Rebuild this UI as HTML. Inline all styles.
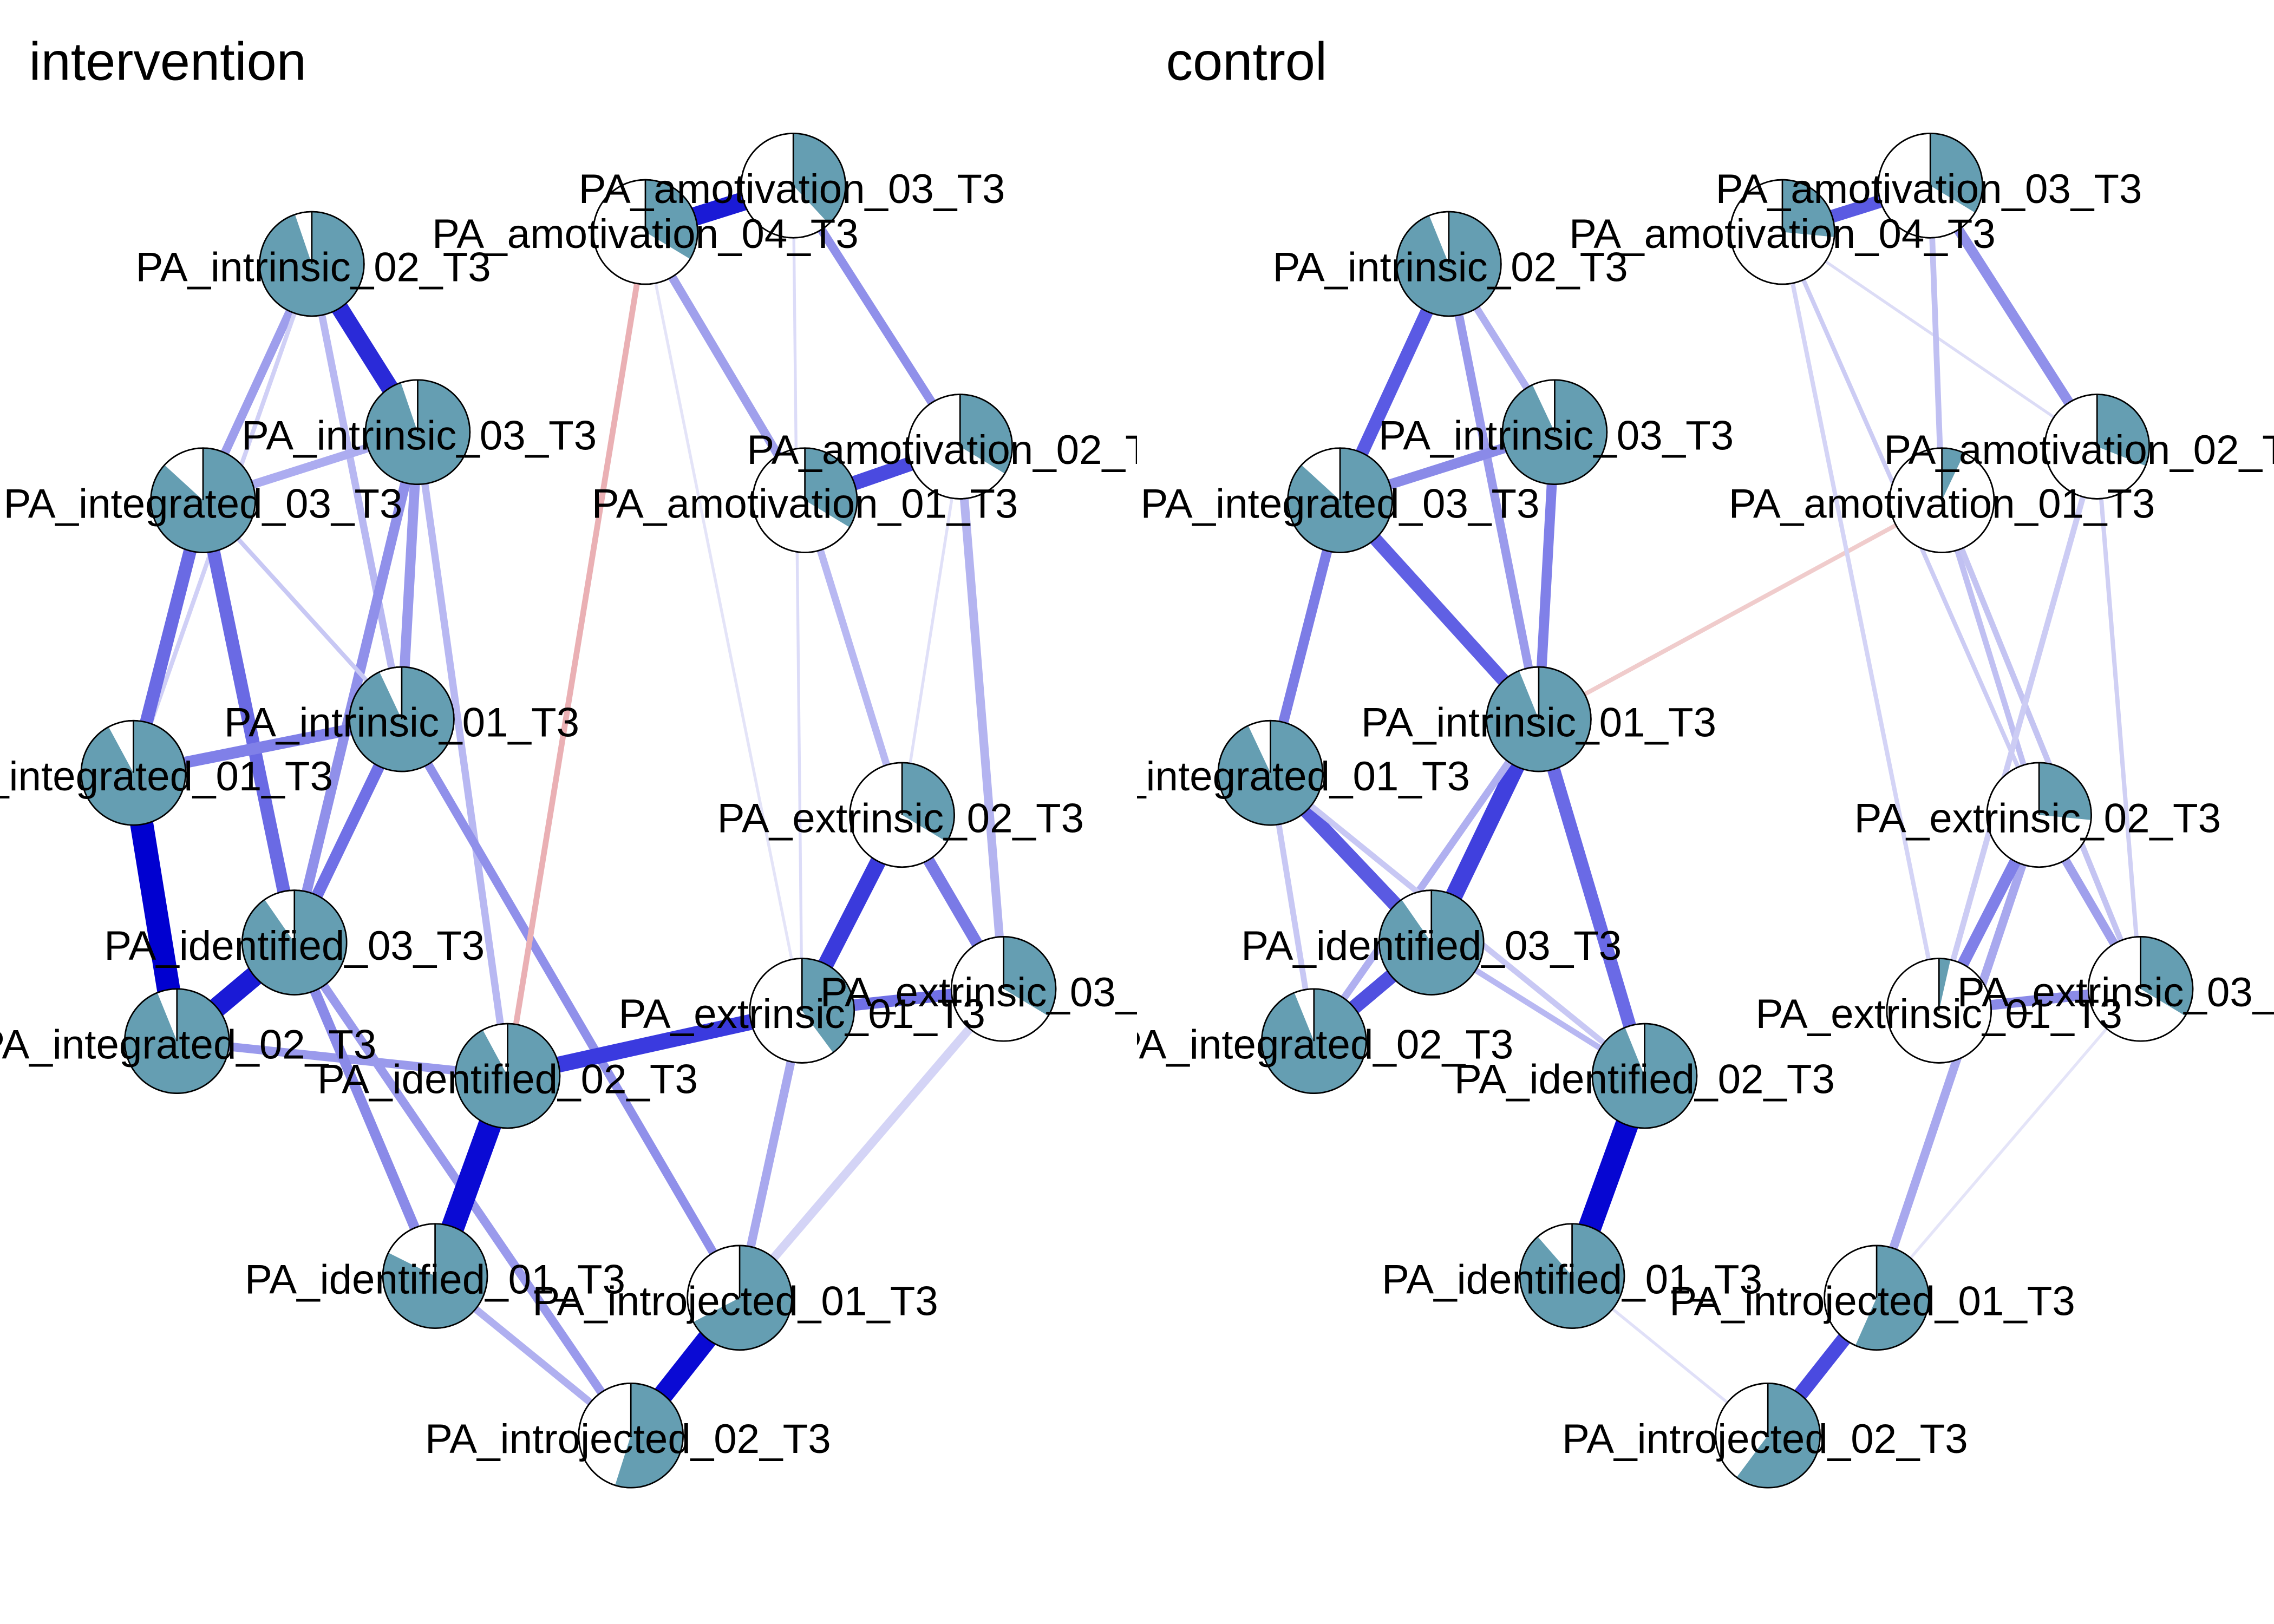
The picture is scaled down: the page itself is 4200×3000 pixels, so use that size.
<!DOCTYPE html>
<html><head><meta charset="utf-8"><style>html,body{margin:0;padding:0;background:#fff}svg{display:block}</style></head>
<body>
<svg width="4200" height="3000" viewBox="0 0 1568 1120" xmlns="http://www.w3.org/2000/svg" font-family="Liberation Sans, Arial, sans-serif">
<defs>
<clipPath id="c1"><rect x="0" y="0" width="784" height="1120"/></clipPath>
<clipPath id="c2"><rect x="0" y="0" width="784" height="1120"/></clipPath>
</defs>
<text x="20" y="55" font-size="37">intervention</text>
<text x="804" y="55" font-size="37">control</text>

<!-- INTERVENTION -->
<g clip-path="url(#c1)">
<g stroke-linecap="butt" fill="none">
<line x1="215" y1="182" x2="288" y2="298" stroke="#2a2ad8" stroke-width="12"/>
<line x1="215" y1="182" x2="140" y2="345" stroke="#9e9eec" stroke-width="6"/>
<line x1="215" y1="182" x2="92" y2="533" stroke="#d0d0f6" stroke-width="3"/>
<line x1="215" y1="182" x2="277" y2="496" stroke="#b8b8f2" stroke-width="5"/>
<line x1="288" y1="298" x2="140" y2="345" stroke="#acacf0" stroke-width="6"/>
<line x1="288" y1="298" x2="277" y2="496" stroke="#9a9aec" stroke-width="7"/>
<line x1="288" y1="298" x2="203" y2="650" stroke="#9090ea" stroke-width="7"/>
<line x1="288" y1="298" x2="350" y2="742" stroke="#b8b8f2" stroke-width="5"/>
<line x1="140" y1="345" x2="277" y2="496" stroke="#c8c8f4" stroke-width="3"/>
<line x1="140" y1="345" x2="92" y2="533" stroke="#6a6ae4" stroke-width="9"/>
<line x1="140" y1="345" x2="203" y2="650" stroke="#6a6ae4" stroke-width="9"/>
<line x1="92" y1="533" x2="277" y2="496" stroke="#8080e8" stroke-width="8"/>
<line x1="92" y1="533" x2="122" y2="718" stroke="#0000d0" stroke-width="16"/>
<line x1="277" y1="496" x2="203" y2="650" stroke="#7070e6" stroke-width="8"/>
<line x1="277" y1="496" x2="510" y2="895" stroke="#9090ea" stroke-width="6"/>
<line x1="122" y1="718" x2="203" y2="650" stroke="#1a1ad6" stroke-width="14"/>
<line x1="122" y1="718" x2="350" y2="742" stroke="#9a9aec" stroke-width="6"/>
<line x1="203" y1="650" x2="300" y2="880" stroke="#8a8ae8" stroke-width="7"/>
<line x1="203" y1="650" x2="435" y2="990" stroke="#9a9aec" stroke-width="6"/>
<line x1="300" y1="880" x2="435" y2="990" stroke="#b0b0f0" stroke-width="5"/>
<line x1="350" y1="742" x2="300" y2="880" stroke="#0a0ad4" stroke-width="16"/>
<line x1="350" y1="742" x2="553" y2="697" stroke="#3a3adf" stroke-width="11"/>
<line x1="350" y1="742" x2="445" y2="160" stroke="#eab0b4" stroke-width="4"/>
<line x1="510" y1="895" x2="435" y2="990" stroke="#0a0ad4" stroke-width="14"/>
<line x1="510" y1="895" x2="553" y2="697" stroke="#a8a8ee" stroke-width="6"/>
<line x1="510" y1="895" x2="692" y2="682" stroke="#d4d4f6" stroke-width="6"/>
<line x1="445" y1="160" x2="547" y2="128" stroke="#1a1ad6" stroke-width="13"/>
<line x1="445" y1="160" x2="555" y2="345" stroke="#a0a0ec" stroke-width="6"/>
<line x1="445" y1="160" x2="553" y2="697" stroke="#e4e4f8" stroke-width="2"/>
<line x1="547" y1="128" x2="662" y2="308" stroke="#9090ea" stroke-width="6"/>
<line x1="547" y1="128" x2="553" y2="697" stroke="#dcdcf8" stroke-width="2"/>
<line x1="662" y1="308" x2="555" y2="345" stroke="#4a4ae0" stroke-width="10"/>
<line x1="662" y1="308" x2="622" y2="562" stroke="#e0e0f8" stroke-width="2"/>
<line x1="662" y1="308" x2="692" y2="682" stroke="#b4b4f0" stroke-width="6"/>
<line x1="555" y1="345" x2="622" y2="562" stroke="#b8b8f2" stroke-width="5"/>
<line x1="622" y1="562" x2="553" y2="697" stroke="#3a3adc" stroke-width="11"/>
<line x1="622" y1="562" x2="692" y2="682" stroke="#7a7ae6" stroke-width="8"/>
<line x1="553" y1="697" x2="692" y2="682" stroke="#7070e6" stroke-width="8"/>
</g>
<g stroke="#000" stroke-width="1">
<g transform="translate(215,182)"><circle r="36" fill="#fff"/><circle r="18" fill="none" stroke="#659eb2" stroke-width="36" stroke-dasharray="107 120" transform="rotate(-90)"/><circle r="36" fill="none"/><line y2="-36"/></g>
<g transform="translate(288,298)"><circle r="36" fill="#fff"/><circle r="18" fill="none" stroke="#659eb2" stroke-width="36" stroke-dasharray="107 120" transform="rotate(-90)"/><circle r="36" fill="none"/><line y2="-36"/></g>
<g transform="translate(140,345)"><circle r="36" fill="#fff"/><circle r="18" fill="none" stroke="#659eb2" stroke-width="36" stroke-dasharray="98 120" transform="rotate(-90)"/><circle r="36" fill="none"/><line y2="-36"/></g>
<g transform="translate(277,496)"><circle r="36" fill="#fff"/><circle r="18" fill="none" stroke="#659eb2" stroke-width="36" stroke-dasharray="105 120" transform="rotate(-90)"/><circle r="36" fill="none"/><line y2="-36"/></g>
<g transform="translate(92,533)"><circle r="36" fill="#fff"/><circle r="18" fill="none" stroke="#659eb2" stroke-width="36" stroke-dasharray="104 120" transform="rotate(-90)"/><circle r="36" fill="none"/><line y2="-36"/></g>
<g transform="translate(203,650)"><circle r="36" fill="#fff"/><circle r="18" fill="none" stroke="#659eb2" stroke-width="36" stroke-dasharray="102 120" transform="rotate(-90)"/><circle r="36" fill="none"/><line y2="-36"/></g>
<g transform="translate(122,718)"><circle r="36" fill="#fff"/><circle r="18" fill="none" stroke="#659eb2" stroke-width="36" stroke-dasharray="106 120" transform="rotate(-90)"/><circle r="36" fill="none"/><line y2="-36"/></g>
<g transform="translate(350,742)"><circle r="36" fill="#fff"/><circle r="18" fill="none" stroke="#659eb2" stroke-width="36" stroke-dasharray="104 120" transform="rotate(-90)"/><circle r="36" fill="none"/><line y2="-36"/></g>
<g transform="translate(300,880)"><circle r="36" fill="#fff"/><circle r="18" fill="none" stroke="#659eb2" stroke-width="36" stroke-dasharray="93 120" transform="rotate(-90)"/><circle r="36" fill="none"/><line y2="-36"/></g>
<g transform="translate(510,895)"><circle r="36" fill="#fff"/><circle r="18" fill="none" stroke="#659eb2" stroke-width="36" stroke-dasharray="76 120" transform="rotate(-90)"/><circle r="36" fill="none"/><line y2="-36"/></g>
<g transform="translate(435,990)"><circle r="36" fill="#fff"/><circle r="18" fill="none" stroke="#659eb2" stroke-width="36" stroke-dasharray="62 120" transform="rotate(-90)"/><circle r="36" fill="none"/><line y2="-36"/></g>
<g transform="translate(547,128)"><circle r="36" fill="#fff"/><circle r="18" fill="none" stroke="#659eb2" stroke-width="36" stroke-dasharray="43 120" transform="rotate(-90)"/><circle r="36" fill="none"/><line y2="-36"/></g>
<g transform="translate(445,160)"><circle r="36" fill="#fff"/><circle r="18" fill="none" stroke="#659eb2" stroke-width="36" stroke-dasharray="38 120" transform="rotate(-90)"/><circle r="36" fill="none"/><line y2="-36"/></g>
<g transform="translate(662,308)"><circle r="36" fill="#fff"/><circle r="18" fill="none" stroke="#659eb2" stroke-width="36" stroke-dasharray="38 120" transform="rotate(-90)"/><circle r="36" fill="none"/><line y2="-36"/></g>
<g transform="translate(555,345)"><circle r="36" fill="#fff"/><circle r="18" fill="none" stroke="#659eb2" stroke-width="36" stroke-dasharray="38 120" transform="rotate(-90)"/><circle r="36" fill="none"/><line y2="-36"/></g>
<g transform="translate(622,562)"><circle r="36" fill="#fff"/><circle r="18" fill="none" stroke="#659eb2" stroke-width="36" stroke-dasharray="38 120" transform="rotate(-90)"/><circle r="36" fill="none"/><line y2="-36"/></g>
<g transform="translate(692,682)"><circle r="36" fill="#fff"/><circle r="18" fill="none" stroke="#659eb2" stroke-width="36" stroke-dasharray="38 120" transform="rotate(-90)"/><circle r="36" fill="none"/><line y2="-36"/></g>
<g transform="translate(553,697)"><circle r="36" fill="#fff"/><circle r="18" fill="none" stroke="#659eb2" stroke-width="36" stroke-dasharray="45 120" transform="rotate(-90)"/><circle r="36" fill="none"/><line y2="-36"/></g>
</g>
<g font-size="28.5" text-anchor="middle" fill="#000">
<text x="216" y="194">PA_intrinsic_02_T3</text>
<text x="289" y="310">PA_intrinsic_03_T3</text>
<text x="140" y="357">PA_integrated_03_T3</text>
<text x="277" y="508">PA_intrinsic_01_T3</text>
<text x="92" y="545">PA_integrated_01_T3</text>
<text x="203" y="662">PA_identified_03_T3</text>
<text x="122" y="730">PA_integrated_02_T3</text>
<text x="350" y="754">PA_identified_02_T3</text>
<text x="300" y="892">PA_identified_01_T3</text>
<text x="507" y="907">PA_introjected_01_T3</text>
<text x="433" y="1002">PA_introjected_02_T3</text>
<text x="546" y="140">PA_amotivation_03_T3</text>
<text x="445" y="171">PA_amotivation_04_T3</text>
<text x="662" y="320">PA_amotivation_02_T3</text>
<text x="555" y="357">PA_amotivation_01_T3</text>
<text x="621" y="574">PA_extrinsic_02_T3</text>
<text x="692" y="694">PA_extrinsic_03_T3</text>
<text x="553" y="709">PA_extrinsic_01_T3</text>
</g>
</g>

<!-- CONTROL -->
<g transform="translate(784,0)">
<g clip-path="url(#c2)">
<g stroke-linecap="butt" fill="none">
<line x1="215" y1="182" x2="140" y2="345" stroke="#5a5ae4" stroke-width="9"/>
<line x1="215" y1="182" x2="277" y2="496" stroke="#9a9aec" stroke-width="6"/>
<line x1="215" y1="182" x2="288" y2="298" stroke="#b0b0f0" stroke-width="5"/>
<line x1="288" y1="298" x2="140" y2="345" stroke="#8a8ae8" stroke-width="7"/>
<line x1="288" y1="298" x2="277" y2="496" stroke="#8080e8" stroke-width="7"/>
<line x1="140" y1="345" x2="277" y2="496" stroke="#6060e4" stroke-width="9"/>
<line x1="140" y1="345" x2="92" y2="533" stroke="#7c7ce6" stroke-width="7"/>
<line x1="277" y1="496" x2="203" y2="650" stroke="#4040de" stroke-width="12"/>
<line x1="277" y1="496" x2="350" y2="742" stroke="#6a6ae6" stroke-width="9"/>
<line x1="277" y1="496" x2="122" y2="718" stroke="#b0b0f0" stroke-width="5"/>
<line x1="277" y1="496" x2="555" y2="345" stroke="#f0cccc" stroke-width="3"/>
<line x1="92" y1="533" x2="203" y2="650" stroke="#5a5ae2" stroke-width="10"/>
<line x1="92" y1="533" x2="122" y2="718" stroke="#c8c8f4" stroke-width="4"/>
<line x1="92" y1="533" x2="350" y2="742" stroke="#c8c8f4" stroke-width="4"/>
<line x1="203" y1="650" x2="122" y2="718" stroke="#5050e0" stroke-width="10"/>
<line x1="203" y1="650" x2="350" y2="742" stroke="#b8b8f2" stroke-width="4"/>
<line x1="350" y1="742" x2="300" y2="880" stroke="#0606d2" stroke-width="16"/>
<line x1="300" y1="880" x2="435" y2="990" stroke="#e0e0f8" stroke-width="2"/>
<line x1="510" y1="895" x2="435" y2="990" stroke="#4a4ae0" stroke-width="10"/>
<line x1="510" y1="895" x2="622" y2="562" stroke="#a8a8ee" stroke-width="6"/>
<line x1="510" y1="895" x2="692" y2="682" stroke="#e4e4f8" stroke-width="2"/>
<line x1="445" y1="160" x2="547" y2="128" stroke="#5a5ae2" stroke-width="9"/>
<line x1="445" y1="160" x2="662" y2="308" stroke="#dcdcf6" stroke-width="2"/>
<line x1="445" y1="160" x2="622" y2="562" stroke="#ccccf4" stroke-width="3"/>
<line x1="445" y1="160" x2="553" y2="697" stroke="#d4d4f6" stroke-width="3"/>
<line x1="547" y1="128" x2="662" y2="308" stroke="#9090ea" stroke-width="7"/>
<line x1="547" y1="128" x2="555" y2="345" stroke="#c0c0f2" stroke-width="4"/>
<line x1="555" y1="345" x2="622" y2="562" stroke="#c0c0f2" stroke-width="4"/>
<line x1="555" y1="345" x2="692" y2="682" stroke="#c4c4f2" stroke-width="4"/>
<line x1="662" y1="308" x2="553" y2="697" stroke="#ccccf4" stroke-width="4"/>
<line x1="662" y1="308" x2="692" y2="682" stroke="#d0d0f4" stroke-width="3"/>
<line x1="622" y1="562" x2="553" y2="697" stroke="#8080e8" stroke-width="8"/>
<line x1="622" y1="562" x2="692" y2="682" stroke="#a0a0ec" stroke-width="6"/>
<line x1="553" y1="697" x2="692" y2="682" stroke="#8a8ae8" stroke-width="7"/>
</g>
<g stroke="#000" stroke-width="1">
<g transform="translate(215,182)"><circle r="36" fill="#fff"/><circle r="18" fill="none" stroke="#659eb2" stroke-width="36" stroke-dasharray="106 120" transform="rotate(-90)"/><circle r="36" fill="none"/><line y2="-36"/></g>
<g transform="translate(288,298)"><circle r="36" fill="#fff"/><circle r="18" fill="none" stroke="#659eb2" stroke-width="36" stroke-dasharray="105 120" transform="rotate(-90)"/><circle r="36" fill="none"/><line y2="-36"/></g>
<g transform="translate(140,345)"><circle r="36" fill="#fff"/><circle r="18" fill="none" stroke="#659eb2" stroke-width="36" stroke-dasharray="98 120" transform="rotate(-90)"/><circle r="36" fill="none"/><line y2="-36"/></g>
<g transform="translate(277,496)"><circle r="36" fill="#fff"/><circle r="18" fill="none" stroke="#659eb2" stroke-width="36" stroke-dasharray="106 120" transform="rotate(-90)"/><circle r="36" fill="none"/><line y2="-36"/></g>
<g transform="translate(92,533)"><circle r="36" fill="#fff"/><circle r="18" fill="none" stroke="#659eb2" stroke-width="36" stroke-dasharray="105 120" transform="rotate(-90)"/><circle r="36" fill="none"/><line y2="-36"/></g>
<g transform="translate(203,650)"><circle r="36" fill="#fff"/><circle r="18" fill="none" stroke="#659eb2" stroke-width="36" stroke-dasharray="102 120" transform="rotate(-90)"/><circle r="36" fill="none"/><line y2="-36"/></g>
<g transform="translate(122,718)"><circle r="36" fill="#fff"/><circle r="18" fill="none" stroke="#659eb2" stroke-width="36" stroke-dasharray="106 120" transform="rotate(-90)"/><circle r="36" fill="none"/><line y2="-36"/></g>
<g transform="translate(350,742)"><circle r="36" fill="#fff"/><circle r="18" fill="none" stroke="#659eb2" stroke-width="36" stroke-dasharray="106 120" transform="rotate(-90)"/><circle r="36" fill="none"/><line y2="-36"/></g>
<g transform="translate(300,880)"><circle r="36" fill="#fff"/><circle r="18" fill="none" stroke="#659eb2" stroke-width="36" stroke-dasharray="100 120" transform="rotate(-90)"/><circle r="36" fill="none"/><line y2="-36"/></g>
<g transform="translate(510,895)"><circle r="36" fill="#fff"/><circle r="18" fill="none" stroke="#659eb2" stroke-width="36" stroke-dasharray="64 120" transform="rotate(-90)"/><circle r="36" fill="none"/><line y2="-36"/></g>
<g transform="translate(435,990)"><circle r="36" fill="#fff"/><circle r="18" fill="none" stroke="#659eb2" stroke-width="36" stroke-dasharray="68 120" transform="rotate(-90)"/><circle r="36" fill="none"/><line y2="-36"/></g>
<g transform="translate(547,128)"><circle r="36" fill="#fff"/><circle r="18" fill="none" stroke="#659eb2" stroke-width="36" stroke-dasharray="38 120" transform="rotate(-90)"/><circle r="36" fill="none"/><line y2="-36"/></g>
<g transform="translate(445,160)"><circle r="36" fill="#fff"/><circle r="18" fill="none" stroke="#659eb2" stroke-width="36" stroke-dasharray="30 120" transform="rotate(-90)"/><circle r="36" fill="none"/><line y2="-36"/></g>
<g transform="translate(662,308)"><circle r="36" fill="#fff"/><circle r="18" fill="none" stroke="#659eb2" stroke-width="36" stroke-dasharray="35 120" transform="rotate(-90)"/><circle r="36" fill="none"/><line y2="-36"/></g>
<g transform="translate(555,345)"><circle r="36" fill="#fff"/><circle r="18" fill="none" stroke="#659eb2" stroke-width="36" stroke-dasharray="8 120" transform="rotate(-90)"/><circle r="36" fill="none"/><line y2="-36"/></g>
<g transform="translate(622,562)"><circle r="36" fill="#fff"/><circle r="18" fill="none" stroke="#659eb2" stroke-width="36" stroke-dasharray="30 120" transform="rotate(-90)"/><circle r="36" fill="none"/><line y2="-36"/></g>
<g transform="translate(692,682)"><circle r="36" fill="#fff"/><circle r="18" fill="none" stroke="#659eb2" stroke-width="36" stroke-dasharray="38 120" transform="rotate(-90)"/><circle r="36" fill="none"/><line y2="-36"/></g>
<g transform="translate(553,697)"><circle r="36" fill="#fff"/><circle r="18" fill="none" stroke="#659eb2" stroke-width="36" stroke-dasharray="4 120" transform="rotate(-90)"/><circle r="36" fill="none"/><line y2="-36"/></g>
</g>
<g font-size="28.5" text-anchor="middle" fill="#000">
<text x="216" y="194">PA_intrinsic_02_T3</text>
<text x="289" y="310">PA_intrinsic_03_T3</text>
<text x="140" y="357">PA_integrated_03_T3</text>
<text x="277" y="508">PA_intrinsic_01_T3</text>
<text x="92" y="545">PA_integrated_01_T3</text>
<text x="203" y="662">PA_identified_03_T3</text>
<text x="122" y="730">PA_integrated_02_T3</text>
<text x="350" y="754">PA_identified_02_T3</text>
<text x="300" y="892">PA_identified_01_T3</text>
<text x="507" y="907">PA_introjected_01_T3</text>
<text x="433" y="1002">PA_introjected_02_T3</text>
<text x="546" y="140">PA_amotivation_03_T3</text>
<text x="445" y="171">PA_amotivation_04_T3</text>
<text x="662" y="320">PA_amotivation_02_T3</text>
<text x="555" y="357">PA_amotivation_01_T3</text>
<text x="621" y="574">PA_extrinsic_02_T3</text>
<text x="692" y="694">PA_extrinsic_03_T3</text>
<text x="553" y="709">PA_extrinsic_01_T3</text>
</g>
</g>
</g>
</svg>
</body></html>
